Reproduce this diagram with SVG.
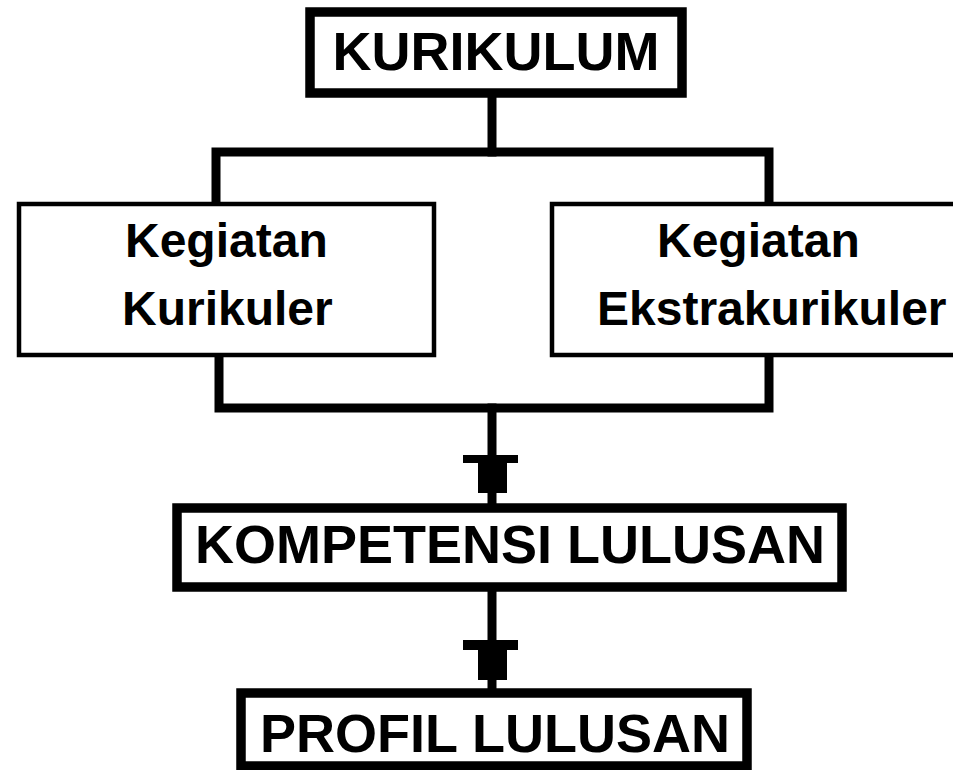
<svg xmlns="http://www.w3.org/2000/svg" width="953" height="770" viewBox="0 0 953 770">
<style>
.bg{fill:#fff}
.thick{fill:#fff;stroke:#000;stroke-width:9.5}
.thin{fill:#fff;stroke:#000;stroke-width:4.5}
.conn{fill:none;stroke:#000;stroke-width:9;stroke-linecap:square;stroke-linejoin:miter}
.head{fill:#000}
text{font-family:"Liberation Sans",Arial,sans-serif;font-weight:bold;fill:#000}
.big{font-size:54px}
.mid{font-size:48px}
</style>
<rect class="bg" x="0" y="0" width="953" height="770"/>
<g id="connectors">
<path class="conn" d="M492 98 V152"/>
<path class="conn" d="M216 204 V152 H769 V204"/>
<path class="conn" d="M219 355 V408 H769 V355"/>
<path class="conn" d="M492 408 V503"/>
<path class="conn" d="M492 592 V688"/>
<path class="head" d="M463 455 H518 V463 H507 V493 H478 V463 H463 Z"/>
<path class="head" d="M463 640 H518 V650 H507 V680 H478 V650 H463 Z"/>
</g>
<g id="kurikulum">
<rect class="thick" x="310" y="12" width="372" height="81"/>
<text class="big" x="496" y="70" text-anchor="middle">KURIKULUM</text>
</g>
<g id="kurikuler">
<rect class="thin" x="19" y="204" width="415" height="151"/>
<text class="mid" x="125" y="257">Kegiatan</text>
<text class="mid" x="122" y="325">Kurikuler</text>
</g>
<g id="ekstrakurikuler">
<rect class="thin" x="552" y="204" width="410" height="151"/>
<text class="mid" x="657" y="257">Kegiatan</text>
<text class="mid" x="597" y="325">Ekstrakurikuler</text>
</g>
<g id="kompetensi">
<rect class="thick" x="177" y="508" width="665" height="79"/>
<text class="big" x="195" y="563">KOMPETENSI LULUSAN</text>
</g>
<g id="profil">
<rect class="thick" x="241" y="693" width="506" height="73"/>
<text class="big" x="260" y="752">PROFIL LULUSAN</text>
</g>
</svg>
